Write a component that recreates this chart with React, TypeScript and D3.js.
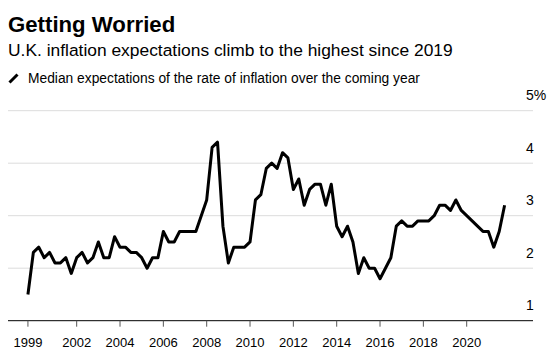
import React, { useMemo } from "react";
import * as d3 from "d3";

const WIDTH = 548;
const HEIGHT = 354;
const PLOT = { left: 8, right: 533, top: 110.7, bottom: 320.7 };

// quarterly survey, first reading in Q4 1999
const START_YEAR = 1999.75;
const values = [
  1.5, 2.3, 2.4, 2.2, 2.3, 2.1, 2.1, 2.2, 1.9, 2.2,
  2.3, 2.1, 2.2, 2.5, 2.2, 2.2, 2.6, 2.4, 2.4, 2.3,
  2.3, 2.2, 2.0, 2.2, 2.2, 2.7, 2.5, 2.5, 2.7, 2.7,
  2.7, 2.7, 3.0, 3.3, 4.3, 4.4, 2.8, 2.1, 2.4, 2.4,
  2.4, 2.5, 3.3, 3.4, 3.9, 4.0, 3.9, 4.2, 4.1, 3.5,
  3.7, 3.2, 3.5, 3.6, 3.6, 3.2, 3.6, 2.8, 2.6, 2.8,
  2.5, 1.9, 2.2, 2.0, 2.0, 1.8, 2.0, 2.2, 2.8, 2.9,
  2.8, 2.8, 2.9, 2.9, 2.9, 3.0, 3.2, 3.2, 3.1, 3.3,
  3.1, 3.0, 2.9, 2.8, 2.7, 2.7, 2.4, 2.7, 3.2,
];

const xTickValues = [1999.75, 2002, 2004, 2006, 2008, 2010, 2012, 2014, 2016, 2018, 2020];
const xTickLabels = ["1999", "2002", "2004", "2006", "2008", "2010", "2012", "2014", "2016", "2018", "2020"];
const yTickValues = [1, 2, 3, 4, 5];
const yTickLabels = ["1", "2", "3", "4", "5%"];

const FONT = "'Liberation Sans', Arial, Helvetica, sans-serif";

export default function App() {
  const data = values.map((v, i) => ({ t: START_YEAR + i / 4, v }));

  const x = useMemo(
    () => d3.scaleLinear().domain([1998.83, 2023.06]).range([PLOT.left, PLOT.right]),
    []
  );
  const y = useMemo(
    () => d3.scaleLinear().domain([1, 5]).range([PLOT.bottom, PLOT.top]),
    []
  );

  const line = d3
    .line<{ t: number; v: number }>()
    .x((d) => x(d.t))
    .y((d) => y(d.v));

  return (
    <div style={{ position: "absolute", left: 0, top: 0 }}>
      <svg width={WIDTH} height={HEIGHT} style={{ display: "block", background: "#fff" }}>
        <text x={8} y={31.5} fontFamily={FONT} fontWeight="bold" fontSize={22.2} fill="#000">
          Getting Worried
        </text>
        <text x={8} y={55.5} fontFamily={FONT} fontSize={17.4} fill="#000">
          U.K. inflation expectations climb to the highest since 2019
        </text>
        <line x1={9.5} y1={82.5} x2={17.5} y2={74.5} stroke="#000" strokeWidth={3} />
        <text x={28} y={83.3} fontFamily={FONT} fontSize={13.8} fill="#000">
          Median expectations of the rate of inflation over the coming year
        </text>

        {yTickValues
          .filter((v) => v > 1)
          .map((v) => (
            <line
              key={v}
              x1={PLOT.left}
              x2={PLOT.right}
              y1={y(v)}
              y2={y(v)}
              stroke="#dcdcdc"
              strokeWidth={1}
            />
          ))}
        {yTickValues.map((v, i) => (
          <text key={v} x={526} y={y(v) - 10.5} fontFamily={FONT} fontSize={14} fill="#000">
            {yTickLabels[i]}
          </text>
        ))}

        <path
          d={line(data) || ""}
          fill="none"
          stroke="#000"
          strokeWidth={3}
          strokeLinejoin="round"
          strokeLinecap="butt"
        />

        <line x1={PLOT.left} x2={PLOT.right} y1={PLOT.bottom} y2={PLOT.bottom} stroke="#000" strokeWidth={1} />
        {xTickValues.map((t, i) => (
          <g key={t} transform={`translate(${x(t)},${PLOT.bottom})`}>
            <line y1={0} y2={6} stroke="#555" strokeWidth={1} />
            <text y={26} textAnchor="middle" fontFamily={FONT} fontSize={13} fill="#000">
              {xTickLabels[i]}
            </text>
          </g>
        ))}
      </svg>
    </div>
  );
}
